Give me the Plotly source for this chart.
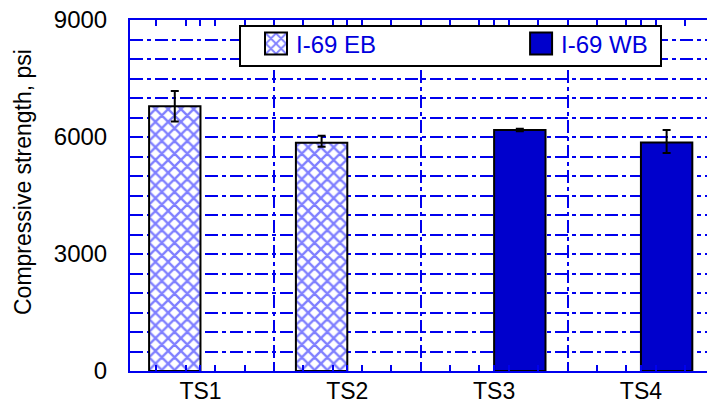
import plotly.graph_objects as go

# Compressive strength of cores from four test sections
sites = ["TS1", "TS2", "TS3", "TS4"]
eb_strength = [6790, 5850, None, None]
eb_err_plus = [390, 180, 0, 0]
eb_err_minus = [390, 100, 0, 0]
wb_strength = [None, None, 6180, 5860]
wb_err_plus = [0, 0, 30, 320]
wb_err_minus = [0, 0, 30, 270]
ytick_vals = [0, 3000, 6000, 9000]

FONT = "Liberation Sans, Arial, sans-serif"
GRID_BLUE = "#0000ee"
BAR_BLUE = "#0000cc"
GRID_DASH = "13px,4px,4px,4px"

xpos = list(range(len(sites)))
xrange_ = [-0.48, 3.45]
boundaries = [i + 0.5 for i in range(len(sites) - 1)]

# tick marks every 0.2 between categories plus the category centres (labelled)
fine_ticks = [round(-0.3 + 0.2 * k, 2) for k in range(20)]
x_tickvals = sorted(fine_ticks + xpos)
x_ticktext = [sites[int(v)] if v in xpos else "" for v in x_tickvals]

# plot-area pixel geometry, used to place the legend frame and axis title
L, T, B, W = 130, 20, 33, 707
PW, PH = W - L, 404 - T - B


def px_x(p):
    return (p - L) / PW


def px_y(p):
    return (404 - B - p) / PH


fig = go.Figure()

fig.add_trace(go.Bar(
    x=xpos, y=eb_strength, name="I-69 EB" + "&nbsp;" * 21,
    marker=dict(color="white",
                line=dict(color="black", width=2),
                pattern=dict(shape="x", fgcolor="#0000ff", bgcolor="white",
                             size=9, solidity=0.45)),
    error_y=dict(type="data", symmetric=False, array=eb_err_plus,
                 arrayminus=eb_err_minus, color="black", thickness=2, width=4),
))
fig.add_trace(go.Bar(
    x=xpos, y=wb_strength, name="I-69 WB",
    marker=dict(color=BAR_BLUE, line=dict(color="black", width=2)),
    error_y=dict(type="data", symmetric=False, array=wb_err_plus,
                 arrayminus=wb_err_minus, color="black", thickness=2, width=4),
))
# carrier for the overlay axis that holds the category-boundary grid
fig.add_trace(go.Scatter(x=[], y=[], xaxis="x2", showlegend=False, hoverinfo="skip"))

fig.update_layout(
    width=W, height=404,
    margin=dict(l=L, r=0, t=T, b=B),
    paper_bgcolor="white", plot_bgcolor="white",
    font=dict(family=FONT, size=23, color="black"),
    barmode="group", bargap=0.3, bargroupgap=0,
    showlegend=True,
    legend=dict(
        orientation="h", x=px_x(256), y=px_y(44), xanchor="left", yanchor="middle",
        bgcolor="rgba(0,0,0,0)", borderwidth=0,
        font=dict(family=FONT, size=24, color="#0000dd"),
    ),
    shapes=[dict(type="rect", xref="paper", yref="paper",
                 x0=px_x(240), x1=px_x(661), y0=px_y(66), y1=px_y(26),
                 fillcolor="white", line=dict(color="black", width=2), layer="above")],
    annotations=[dict(text="Compressive strength, psi", textangle=-90,
                      xref="paper", yref="paper", x=px_x(23), y=px_y(182),
                      xanchor="center", yanchor="middle", showarrow=False,
                      font=dict(size=23, color="black"))],
    xaxis=dict(
        range=xrange_, tickmode="array", tickvals=x_tickvals, ticktext=x_ticktext,
        ticks="inside", ticklen=6, tickwidth=1.5, tickcolor=GRID_BLUE,
        showgrid=False, zeroline=False, automargin=False,
        showline=True, linecolor=GRID_BLUE, linewidth=2, mirror="ticks",
        tickfont=dict(size=23), ticklabelstandoff=-2,
    ),
    xaxis2=dict(
        overlaying="x", range=xrange_, tickmode="array", tickvals=boundaries,
        showticklabels=False, ticks="", showline=False, zeroline=False,
        automargin=False,
        showgrid=True, gridcolor=GRID_BLUE, gridwidth=1.5, griddash=GRID_DASH,
    ),
    yaxis=dict(
        range=[0, 9000], tickmode="array", tickvals=ytick_vals,
        ticks="", zeroline=False, automargin=False,
        showline=True, linecolor=GRID_BLUE, linewidth=2,
        showgrid=True, gridcolor=GRID_BLUE, gridwidth=1.5, griddash=GRID_DASH,
        minor=dict(dtick=500, showgrid=True, gridcolor=GRID_BLUE,
                   gridwidth=1.5, griddash=GRID_DASH),
        tickfont=dict(size=24), ticklabelstandoff=16,
    ),
)

# enlarge the legend keys
post = """
var gd = document.getElementById('{plot_id}');
function bigKeys(){
  gd.querySelectorAll('.legendpoints path.legendundefined').forEach(function(p){
    p.setAttribute('d', 'M11,11H-11V-11H11Z');
  });
}
bigKeys();
gd.on('plotly_afterplot', bigKeys);
"""
fig.write_html("out.html", post_script=post)
